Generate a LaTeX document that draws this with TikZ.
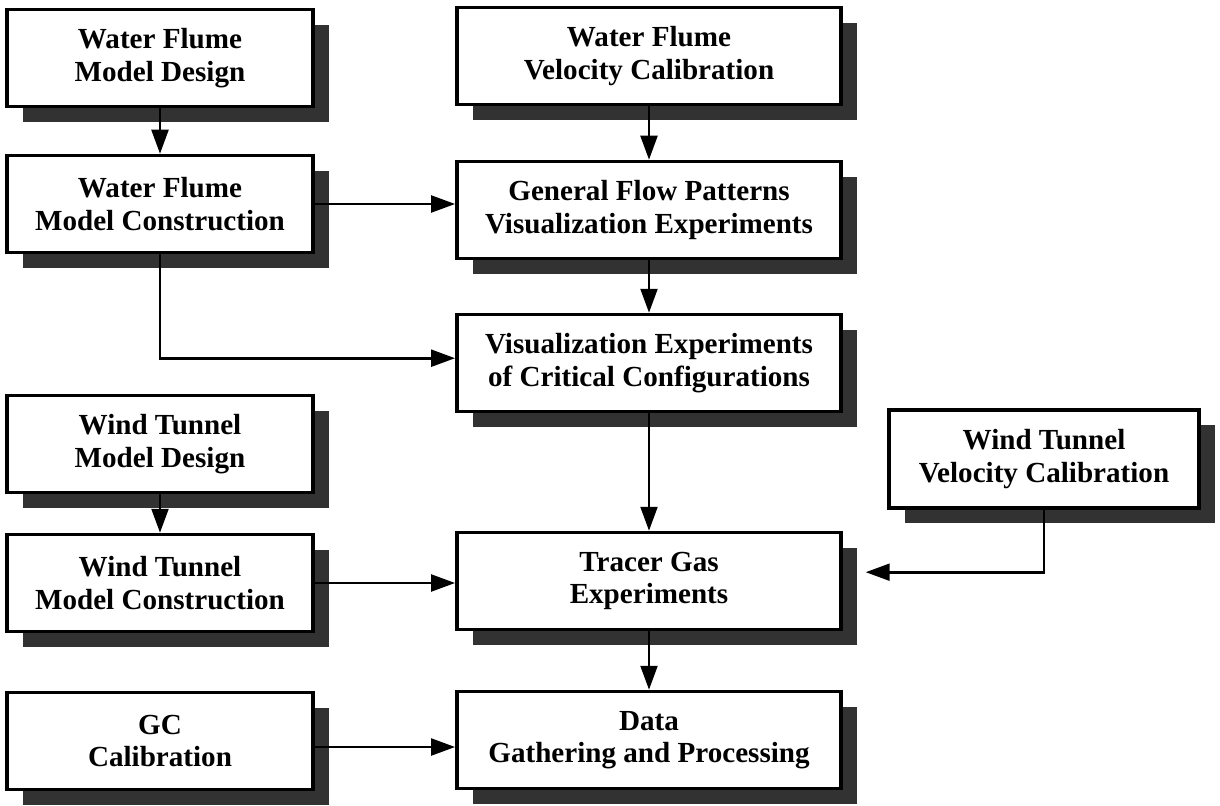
\documentclass[tikz,border=0pt]{standalone}
\usepackage{fontspec}
\setmainfont{Liberation Serif}
\usepackage{xcolor}
\usepackage{tikz}
\usetikzlibrary{arrows.meta,shadows}
\definecolor{ShadowGrey}{RGB}{50, 50, 50}

\begin{document}
\begin{tikzpicture}[x=0.025cm, y=-0.025cm,
    stage/.style={draw=black, line width=2.6pt, fill=white, align=center, inner sep=2pt,
      font=\fontsize{20.7}{23}\selectfont\bfseries,
      drop shadow={shadow xshift=0.4cm, shadow yshift=-0.38cm, fill=ShadowGrey, opacity=1}},
    leftbox/.style={stage, minimum width=7.65cm, minimum height=2.42cm},
    midbox/.style={stage, minimum width=9.6cm, minimum height=2.42cm},
    flow/.style={line width=2pt, -{Triangle[length=0.6cm, width=0.42cm]}}]
    \useasboundingbox (0,0) rectangle (1220,806);
    % left column
    \node[leftbox] (wfDesign) at (160,58) {Water Flume\\Model Design};
    \node[leftbox] (wfBuild) at (160,204) {Water Flume\\Model Construction};
    \node[leftbox] (wtDesign) at (160,444) {Wind Tunnel\\Model Design};
    \node[leftbox] (wtBuild) at (160,583) {Wind Tunnel\\Model Construction};
    \node[leftbox] (gcCal) at (160,741) {GC\\Calibration};
    % middle column
    \node[midbox] (wfVelocity) at (649,56) {Water Flume\\Velocity Calibration};
    \node[midbox] (flowPatterns) at (649,210) {General Flow Patterns\\Visualization Experiments};
    \node[midbox] (critVis) at (649,363) {Visualization Experiments\\of Critical Configurations};
    \node[midbox] (tracerGas) at (649,581) {Tracer Gas\\Experiments};
    \node[midbox] (dataProc) at (649,740) {Data\\Gathering and Processing};
    % right
    \node[stage, minimum width=7.75cm, minimum height=2.45cm] (wtVelocity) at (1044,459) {Wind Tunnel\\Velocity Calibration};

    \draw[flow] (wfDesign) -- (wfBuild);
    \draw[flow] (wfVelocity) -- (flowPatterns);
    \draw[flow] (wfBuild.east) -- (wfBuild.east -| flowPatterns.west);
    \draw[flow] (wfBuild.south) |- ([yshift=0.12cm]critVis.west);
    \draw[flow] (flowPatterns) -- (critVis);
    \draw[flow] (critVis) -- (tracerGas);
    \draw[flow] (wtDesign) -- (wtBuild);
    \draw[flow] (wtBuild.east) -- (wtBuild.east -| tracerGas.west);
    \draw[flow] (wtVelocity.south) |- ([xshift=0.57cm, yshift=0.22cm]tracerGas.east);
    \draw[flow] (tracerGas) -- (dataProc);
    \draw[flow] ([yshift=-0.15cm]gcCal.east) -- ([yshift=-0.15cm]gcCal.east -| dataProc.west);
\end{tikzpicture}
\end{document}
